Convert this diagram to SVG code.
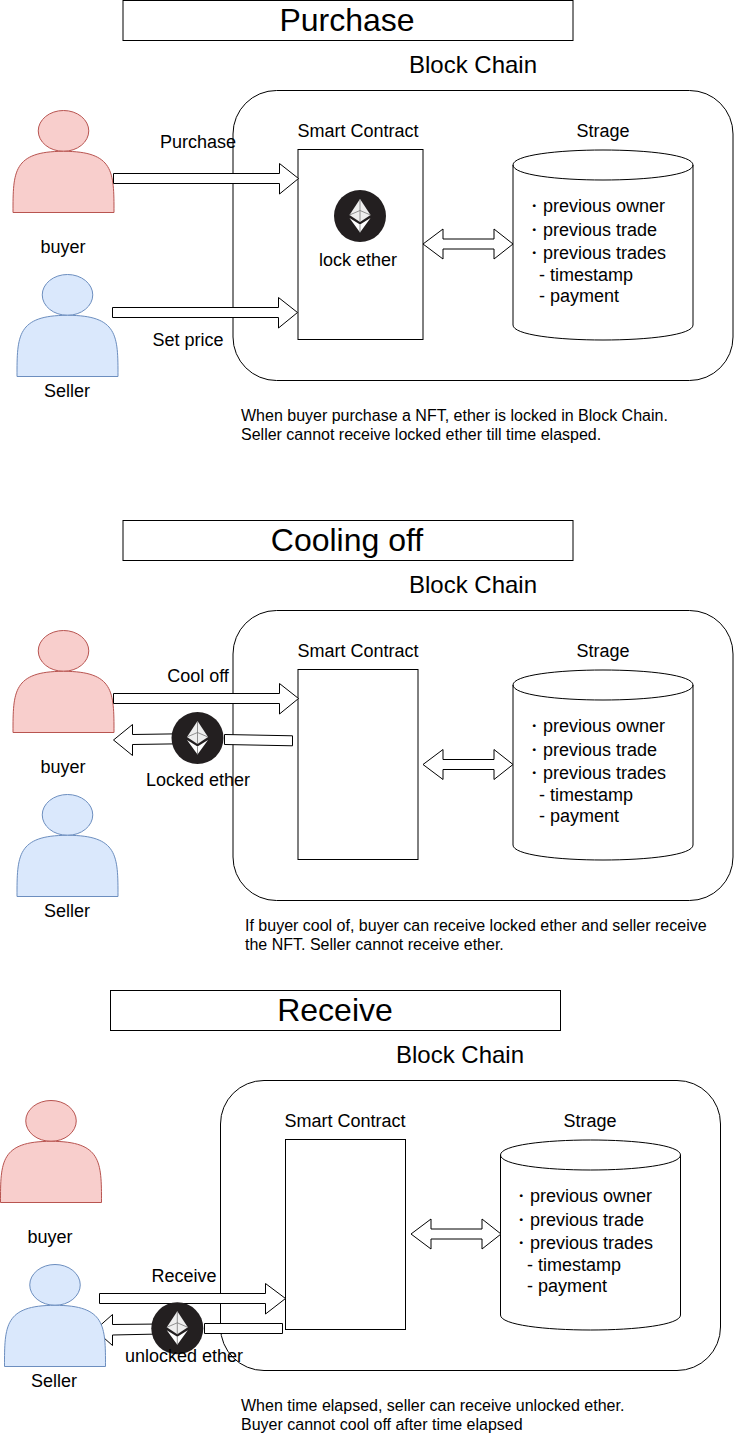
<svg xmlns="http://www.w3.org/2000/svg" width="734" height="1451" viewBox="0 0 734 1451">
<style>
text{font-family:"Liberation Sans",Arial,sans-serif;font-size:18px;fill:#000;text-anchor:middle}
.l{text-anchor:start}
.title{font-size:32px}
.big{font-size:24px}
.s{font-size:16px}
.box{fill:#fff;stroke:#000;stroke-width:1}
.arrow{fill:#fff;stroke:#000;stroke-width:1}
.none{fill:none;stroke:#000;stroke-width:1}
.buyer{fill:#f8cecc;stroke:#b85450;stroke-width:1}
.seller{fill:#dae8fc;stroke:#6c8ebf;stroke-width:1}
</style>
<defs>
<g id="eth">
<circle r="26" fill="#231f20"/>
<path d="M0-17L10.500-1L0 6L-10.500-1Z" fill="#eee"/>
<path d="M0 8.500L10.500 2L0 16.500L-10.500 2Z" fill="#fff"/>
<path d="M0-17V6M-10.500-1L0-5.500L10.500-1M0 8.500V16.500" fill="none" stroke="#777" stroke-width=".8"/>
</g>
<g id="person">
<ellipse cx="50.500" cy="20.400" rx="25.250" ry="20.400"/>
<path d="M0 102C0 61.200 0 40.800 50.500 40.800C101 40.800 101 61.200 101 102Z"/>
</g>
<path id="dbl" d="M0 15L20 0V10H71V0L90 15L71 30V20H20V30Z" class="arrow"/>
<g id="storage">
<path d="M0 15C0-5 180-5 180 15V175C180 195 0 195 0 175Z" fill="#fff" stroke="#000"/>
<path d="M180 15C180 35 0 35 0 15" fill="none" stroke="#000"/>
</g>
</defs>

<g id="section-purchase">
<g id="title1"><rect class="box" x="123" y="0.500" width="450" height="40"/><text class="title" x="347" y="31">Purchase</text></g>
<text class="big" x="473" y="73">Block Chain</text>
<g id="chain1"><rect class="none" x="233" y="90.500" width="500" height="290" rx="43.500"/></g>
<g id="contract1"><text x="358" y="137">Smart Contract</text><rect class="none" x="298" y="149.500" width="125" height="190"/>
<use href="#eth" x="360" y="216"/><text x="358" y="266">lock ether</text></g>
<g id="storage1"><text x="603" y="137">Strage</text><use href="#storage" x="513" y="150"/>
<text class="l" x="525" y="212">・previous owner</text><text class="l" x="525" y="236">・previous trade</text><text class="l" x="525" y="259">・previous trades</text><text class="l" x="539" y="281">- timestamp</text><text class="l" x="539" y="302">- payment</text></g>
<g id="buyer1"><use href="#person" x="13" y="110.500" class="buyer"/><text x="63" y="253">buyer</text></g>
<g id="seller1"><use href="#person" x="17" y="274.500" class="seller"/><text x="67" y="397">Seller</text></g>
<g id="connectors1">
<path class="arrow" d="M113.500 173.500H279.500V163.500L298.500 178.500L279.500 194V183.500H113.500Z"/>
<path class="arrow" d="M112.500 307.500H278.500V297.500L297.500 312.500L278.500 328V317.500H112.500Z"/>
<use href="#dbl" x="423" y="229"/>
</g>
<text x="198" y="148">Purchase</text><text x="188" y="346">Set price</text>
<text class="l s" x="241" y="421">When buyer purchase a NFT, ether is locked in Block Chain.</text>
<text class="l s" x="241" y="440">Seller cannot receive locked ether till time elasped.</text>
</g>

<g id="section-cooling">
<g id="title2"><rect class="box" x="123" y="520.500" width="450" height="40"/><text class="title" x="347" y="551">Cooling off</text></g>
<text class="big" x="473" y="593">Block Chain</text>
<g id="chain2"><rect class="none" x="233" y="610.500" width="500" height="290" rx="43.500"/></g>
<g id="contract2"><text x="358" y="657">Smart Contract</text><rect class="none" x="298" y="669.500" width="120" height="190"/></g>
<g id="storage2"><text x="603" y="657">Strage</text><use href="#storage" x="513" y="670"/>
<text class="l" x="525" y="732">・previous owner</text><text class="l" x="525" y="756">・previous trade</text><text class="l" x="525" y="779">・previous trades</text><text class="l" x="539" y="801">- timestamp</text><text class="l" x="539" y="822">- payment</text></g>
<g id="buyer2"><use href="#person" x="13" y="630.500" class="buyer"/><text x="63" y="773">buyer</text></g>
<g id="seller2"><use href="#person" x="17" y="794.500" class="seller"/><text x="67" y="917">Seller</text></g>
<g id="connectors2">
<path class="arrow" d="M113.500 693.500H279.500V683.500L298.500 698.500L279.500 714V703.500H113.500Z"/>
<path class="arrow" d="M180 733.800L132.500 734.500V724.500L113.500 740L132.500 755.500V744.500L180 743.800Z"/>
<path class="arrow" d="M224.500 734.500L292.500 735.800V745.800L224.500 744.500Z"/>
<use href="#dbl" x="423" y="749.500"/>
</g>
<use id="eth2" href="#eth" x="197.500" y="738"/>
<text x="198" y="682">Cool off</text><text x="198" y="786">Locked ether</text>
<text class="l s" x="245" y="931">If buyer cool of, buyer can receive locked ether and seller receive</text>
<text class="l s" x="245" y="950">the NFT. Seller cannot receive ether.</text>
</g>

<g id="section-receive">
<g id="title3"><rect class="box" x="110.500" y="990.500" width="450" height="40"/><text class="title" x="335" y="1021">Receive</text></g>
<text class="big" x="460" y="1063">Block Chain</text>
<g id="chain3"><rect class="none" x="220.500" y="1080.500" width="500" height="290" rx="43.500"/></g>
<g id="contract3"><text x="345" y="1127">Smart Contract</text><rect class="none" x="285.500" y="1139.500" width="120" height="190"/></g>
<g id="storage3"><text x="590" y="1127">Strage</text><use href="#storage" x="500.500" y="1140"/>
<text class="l" x="512" y="1202">・previous owner</text><text class="l" x="512" y="1226">・previous trade</text><text class="l" x="512" y="1249">・previous trades</text><text class="l" x="527" y="1271">- timestamp</text><text class="l" x="527" y="1292">- payment</text></g>
<g id="buyer3"><use href="#person" x="0.500" y="1100.500" class="buyer"/><text x="50" y="1243">buyer</text></g>
<g id="connectors3">
<path class="arrow" d="M160 1324L112.500 1324.500V1314.500L95 1330L112.500 1345.500V1335L160 1334Z"/>
<path class="arrow" d="M204.500 1323.500H282.500V1333.500H204.500Z"/>
<path class="arrow" d="M99.500 1293.500H265.500V1283.500L285.500 1298.500L265.500 1314V1303.500H99.500Z"/>
<use href="#dbl" x="411" y="1219"/>
</g>
<g id="seller3"><use href="#person" x="4.500" y="1264.500" class="seller"/><text x="54" y="1387">Seller</text></g>
<use id="eth3" href="#eth" x="177.300" y="1328.300"/>
<text x="184" y="1282">Receive</text><text x="184" y="1362">unlocked ether</text>
<text class="l s" x="241" y="1411">When time elapsed, seller can receive unlocked ether.</text>
<text class="l s" x="241" y="1430">Buyer cannot cool off after time elapsed</text>
</g>
</svg>
